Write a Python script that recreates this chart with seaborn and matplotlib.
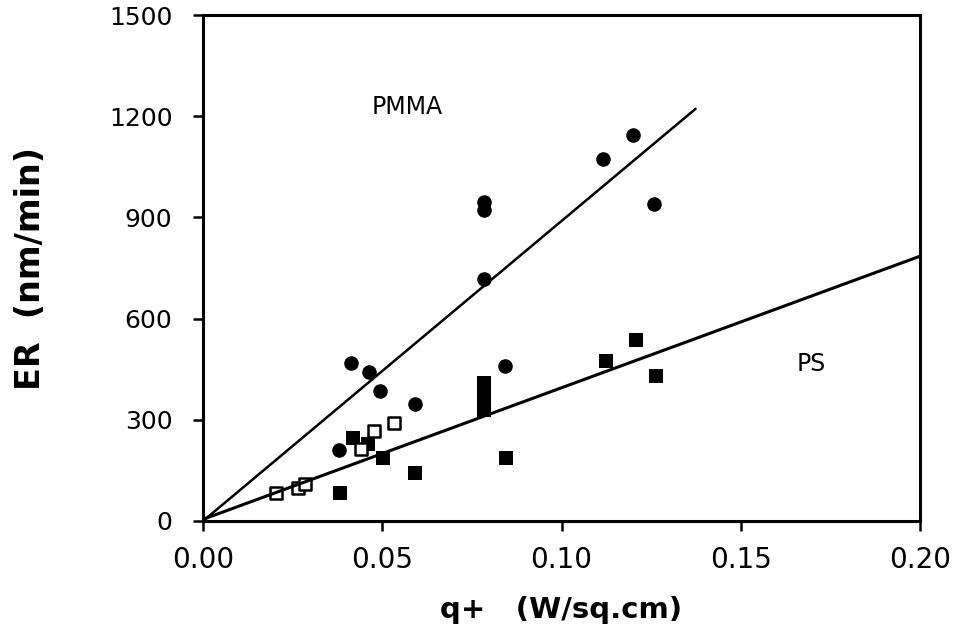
import numpy as np
import pandas as pd
import seaborn as sns
import matplotlib.pyplot as plt

sns.set_style("ticks")
plt.rcParams['font.family'] = ['DejaVu Sans']
plt.rcParams['text.color'] = 'black'
plt.rcParams['axes.labelcolor'] = 'black'

# PMMA (filled circles)
pmma_q = [0.038, 0.0414, 0.0462, 0.0495, 0.059, 0.0784, 0.0784, 0.0784, 0.0843, 0.1115, 0.1199, 0.1257]
pmma_er = [210, 467, 441, 385, 346, 947, 923, 716, 460, 1074, 1145, 941]

# PS (filled squares)
ps_q = [0.0381, 0.0417, 0.0459, 0.0501, 0.0592, 0.0784, 0.0784, 0.0784, 0.0784, 0.0846, 0.1124, 0.1207, 0.1263]
ps_er = [83, 246, 228, 186, 142, 410, 385, 355, 330, 186, 473, 538, 429]

# PS (open squares)
ps_open_q = [0.0203, 0.0264, 0.0284, 0.0442, 0.0478, 0.0534]
ps_open_er = [83, 98, 109, 213, 266, 290]

# fitted lines
pmma_fit_q = [0.0, 0.1374]
pmma_fit_er = [0, 1222]
ps_fit_q = [0.0, 0.2]
ps_fit_er = [5, 785]

x_ticks = [0.00, 0.05, 0.10, 0.15, 0.20]
x_ticklabels = ['0.00', '0.05', '0.10', '0.15', '0.20']
y_ticks = [0, 300, 600, 900, 1200, 1500]

fig = plt.figure(figsize=(9.65, 6.44), dpi=100)
ax = fig.add_axes([0.2104, 0.191, 0.7430, 0.7857])

ax.plot(pmma_fit_q, pmma_fit_er, color='black', lw=1.8)
ax.plot(ps_fit_q, ps_fit_er, color='black', lw=2.2)

sns.scatterplot(x=pmma_q, y=pmma_er, ax=ax, marker='o', s=110,
                color='black', edgecolor='black', linewidth=0)
sns.scatterplot(x=ps_q, y=ps_er, ax=ax, marker='s', s=95,
                color='black', edgecolor='black', linewidth=0)
sns.scatterplot(x=ps_open_q, y=ps_open_er, ax=ax, marker='s', s=70,
                facecolor='white', edgecolor='black', linewidth=1.8)

# series labels
ax.text(0.057, 1228, 'PMMA', fontsize=17, ha='center', va='center')
ax.text(0.1697, 465, 'PS', fontsize=17, ha='center', va='center')

ax.set_xlim(0, 0.2)
ax.set_ylim(0, 1500)
ax.set_xticks(x_ticks)
ax.set_xticklabels(x_ticklabels)
ax.set_yticks(y_ticks)
ax.tick_params(width=1.8, length=7, direction='out', colors='black')
ax.tick_params(axis='x', labelsize=20, pad=11)
ax.tick_params(axis='y', labelsize=18, pad=15)
for s in ax.spines.values():
    s.set_linewidth(2.2)
    s.set_color('black')

ax.set_xlabel('q+   (W/sq.cm)', fontsize=21, fontweight='bold')
ax.set_ylabel('ER  (nm/min)', fontsize=24, fontweight='bold')
ax.xaxis.set_label_coords(0.5, -0.148)
ax.yaxis.set_label_coords(-0.218, 0.5)

fig.savefig('out.png', dpi=100)
